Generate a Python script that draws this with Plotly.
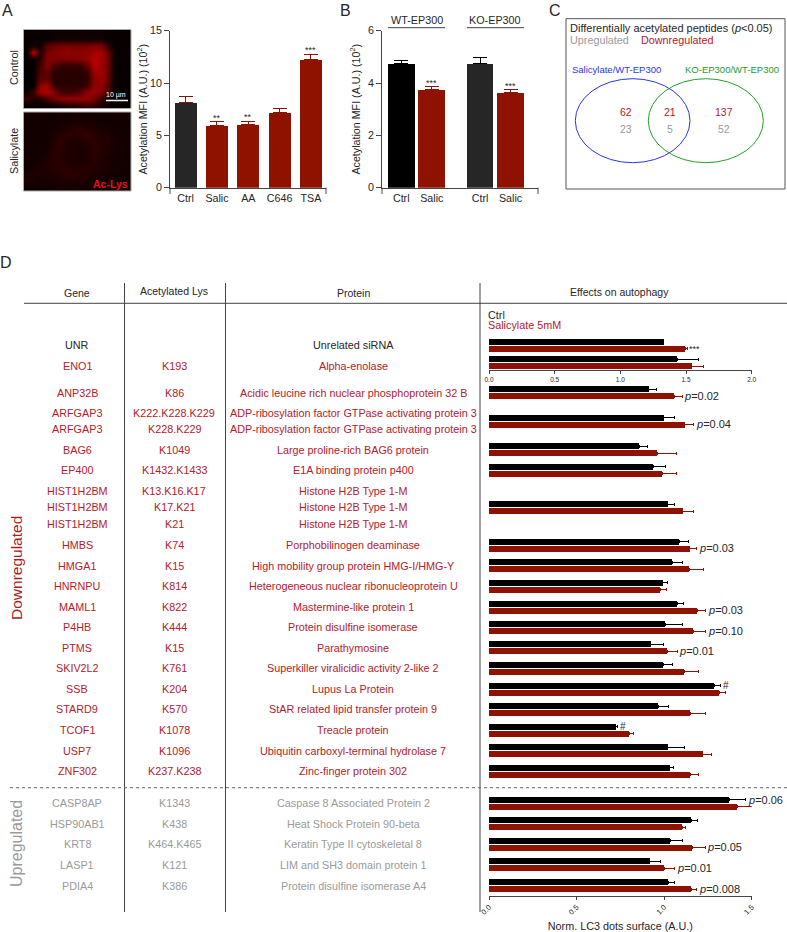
import numpy as np
import plotly.graph_objects as go

W, H = 787, 932
FONT = "Liberation Sans"
DARK = "#262626"
RED = "#8f1200"
TEXT_RED = "#b5202a"
GREY = "#9a9a9a"
LINE = "#444444"

# Panel A
a_labels = ["Ctrl", "Salic", "AA", "C646", "TSA"]
a_values = [8.15, 5.9, 6.0, 7.17, 12.23]
a_err_top = [8.73, 6.3, 6.37, 7.55, 12.77]
a_stars = ["", "**", "**", "", "***"]

# Panel B
b_labels = ["Ctrl", "Salic", "Ctrl", "Salic"]
b_values = [4.74, 3.76, 4.73, 3.64]
b_err_top = [4.88, 3.86, 4.97, 3.75]
b_stars = ["", "***", "", "***"]

control_img = [
    [10, 10, 10, 10, 12, 12, 12, 12, 12, 12, 12, 12, 10, 8, 8, 8],
    [8, 8, 8, 10, 18, 22, 22, 22, 22, 22, 22, 20, 12, 8, 8, 8],
    [5, 25, 12, 90, 110, 120, 125, 120, 120, 125, 130, 130, 50, 10, 8, 8],
    [5, 200, 25, 120, 130, 140, 145, 135, 135, 145, 165, 165, 110, 15, 8, 8],
    [5, 10, 40, 130, 130, 125, 125, 130, 135, 145, 185, 165, 120, 15, 8, 8],
    [5, 5, 65, 130, 70, 45, 45, 50, 50, 90, 185, 155, 110, 12, 8, 8],
    [5, 5, 75, 95, 40, 40, 42, 40, 40, 50, 150, 165, 110, 12, 8, 8],
    [5, 5, 90, 100, 40, 38, 38, 40, 38, 45, 140, 155, 110, 12, 8, 8],
    [5, 5, 140, 160, 50, 40, 40, 42, 42, 60, 140, 145, 90, 12, 8, 8],
    [15, 60, 165, 175, 130, 70, 60, 65, 90, 140, 155, 125, 75, 12, 8, 8],
    [60, 30, 30, 75, 115, 140, 150, 150, 150, 150, 120, 60, 25, 10, 8, 8],
    [10, 10, 10, 10, 18, 25, 35, 42, 50, 60, 50, 25, 12, 10, 8, 8],
]
salicylate_img = [
    [18, 18, 18, 18, 18, 18, 18, 18, 18, 18, 18, 18, 18, 18, 18, 18],
    [18, 18, 18, 18, 18, 20, 22, 24, 24, 22, 20, 18, 18, 18, 18, 18],
    [18, 18, 18, 18, 18, 25, 35, 42, 42, 38, 32, 28, 22, 18, 18, 18],
    [18, 18, 18, 18, 28, 38, 45, 40, 45, 50, 42, 32, 32, 22, 18, 18],
    [18, 18, 18, 18, 32, 45, 35, 30, 30, 40, 45, 36, 34, 26, 18, 18],
    [18, 18, 18, 22, 38, 45, 30, 26, 26, 30, 45, 36, 32, 24, 18, 18],
    [18, 18, 18, 28, 42, 40, 30, 30, 26, 26, 45, 34, 28, 22, 18, 18],
    [18, 18, 22, 32, 38, 40, 30, 26, 26, 30, 42, 32, 26, 20, 18, 18],
    [15, 22, 28, 32, 40, 44, 40, 36, 38, 40, 36, 32, 28, 20, 18, 18],
    [25, 32, 30, 30, 32, 36, 42, 44, 38, 32, 28, 26, 22, 18, 18, 18],
    [32, 25, 22, 24, 26, 28, 30, 30, 28, 26, 24, 22, 18, 18, 18, 18],
    [15, 15, 15, 18, 20, 22, 22, 22, 20, 18, 18, 18, 18, 18, 18, 18],
]

# Panel C
venn_down = ["62", "21", "137"]
venn_up = ["23", "5", "52"]

# Panel D table
genes_down = ["UNR", "ENO1", "ANP32B", "ARFGAP3", "ARFGAP3", "BAG6", "EP400", "HIST1H2BM", "HIST1H2BM",
              "HIST1H2BM", "HMBS", "HMGA1", "HNRNPU", "MAML1", "P4HB", "PTMS", "SKIV2L2", "SSB", "STARD9",
              "TCOF1", "USP7", "ZNF302"]
lys_down = ["", "K193", "K86", "K222.K228.K229", "K228.K229", "K1049", "K1432.K1433", "K13.K16.K17", "K17.K21",
            "K21", "K74", "K15", "K814", "K822", "K444", "K15", "K761", "K204", "K570", "K1078", "K1096",
            "K237.K238"]
protein_down = ["Unrelated siRNA", "Alpha-enolase", "Acidic leucine rich nuclear phosphoprotein 32 B",
                "ADP-ribosylation factor GTPase activating protein 3",
                "ADP-ribosylation factor GTPase activating protein 3",
                "Large proline-rich BAG6 protein", "E1A binding protein p400", "Histone H2B Type 1-M",
                "Histone H2B Type 1-M", "Histone H2B Type 1-M", "Porphobilinogen deaminase",
                "High mobility group protein HMG-I/HMG-Y", "Heterogeneous nuclear ribonucleoprotein U",
                "Mastermine-like protein 1", "Protein disulfine isomerase", "Parathymosine",
                "Superkiller viralicidic activity 2-like 2", "Lupus La Protein",
                "StAR related lipid transfer protein 9", "Treacle protein",
                "Ubiquitin carboxyl-terminal hydrolase 7", "Zinc-finger protein 302"]
genes_up = ["CASP8AP", "HSP90AB1", "KRT8", "LASP1", "PDIA4"]
lys_up = ["K1343", "K438", "K464.K465", "K121", "K386"]
protein_up = ["Caspase 8 Associated Protein 2", "Heat Shock Protein 90-beta", "Keratin Type II cytoskeletal 8",
              "LIM and SH3 domain protein 1", "Protein disulfine isomerase A4"]

# Panel D bars, top block (0-2 scale)
top_genes = ["UNR", "ENO1"]
top_ctrl = [1.33, 1.434]
top_ctrl_err_top = [1.33, 1.594]
top_sal = [1.495, 1.543]
top_sal_err_top = [1.508, 1.635]

# Panel D bars, main block (0-1.5 scale)
bar_genes = ["ANP32B", "ARFGAP3", "BAG6", "EP400", "HIST1H2BM", "HMBS", "HMGA1", "HNRNPU", "MAML1", "P4HB",
             "PTMS", "SKIV2L2", "SSB", "STARD9", "TCOF1", "USP7", "ZNF302", "CASP8AP", "HSP90AB1", "KRT8",
             "LASP1", "PDIA4"]
ctrl = [0.912, 0.998, 0.857, 0.937, 1.02, 1.087, 1.047, 0.992, 1.076, 1.005, 0.923, 0.996, 1.285, 0.965,
        0.723, 1.02, 1.032, 1.371, 1.156, 1.036, 0.918, 1.024]
ctrl_err_top = [0.958, 1.06, 0.904, 1.009, 1.06, 1.14, 1.106, 1.022, 1.112, 1.102, 0.996, 1.049, 1.323, 1.026,
                0.735, 1.116, 1.055, 1.466, 1.19, 1.102, 0.977, 1.057]
sal = [1.057, 1.119, 0.961, 0.99, 1.106, 1.146, 1.144, 0.978, 1.188, 1.165, 1.017, 1.116, 1.314, 1.15,
       0.8, 1.22, 1.15, 1.418, 1.102, 1.161, 1.001, 1.154]
sal_err_top = [1.102, 1.169, 1.07, 1.07, 1.169, 1.186, 1.226, 1.011, 1.239, 1.239, 1.076, 1.194, 1.348, 1.237,
               0.826, 1.272, 1.195, 1.511, 1.121, 1.234, 1.062, 1.186]
red_notes = {"ANP32B": "0.02", "ARFGAP3": "0.04", "HMBS": "0.03", "MAML1": "0.03", "P4HB": "0.10",
             "PTMS": "0.01", "KRT8": "0.05", "LASP1": "0.01", "PDIA4": "0.008"}
black_notes = {"CASP8AP": "0.06"}
hash_notes = ["SSB", "TCOF1"]

# Layout positions in page pixels
gene_y = [345, 365.7, 392.7, 413, 429.3, 450, 470.3, 491, 507, 524.3, 545, 565.7, 586, 606.7, 627.3, 647.7,
          668.3, 689, 709.3, 730, 750.7, 771]
gene_up_y = [803, 823.7, 844.3, 865, 885.7]
bar_y = [392.8, 421.2, 449.8, 470.3, 507.7, 545.2, 565.5, 586.2, 607, 627.5, 647.8, 668.3, 689, 709.5, 730.3,
         750.5, 771, 803.2, 823.7, 844.3, 864.8, 885.5]
top_bar_y = [345.2, 362.7]
b_x = [0, 1, 2.58, 3.58]


def px(x):
    return x / W


def py(y):
    return 1 - y / H


def text(x, y, s, size=10.8, color=DARK, **kw):
    kw.setdefault("xanchor", "center")
    if kw["xanchor"] == "left":
        x -= 2  # box padding
    return dict(x=px(x), y=py(y), xref="paper", yref="paper", text=s, showarrow=False, yanchor="middle",
                font=dict(family=FONT, size=size, color=color), **kw)


def line(x0, y0, x1, y1, color=LINE, width=1, dash="solid"):
    return dict(type="line", xref="paper", yref="paper", x0=px(x0), x1=px(x1), y0=py(y0), y1=py(y1),
                line=dict(color=color, width=width, dash=dash))


def rect(x0, y0, x1, y1, color, kind="rect"):
    return dict(type=kind, xref="paper", yref="paper", x0=px(x0), x1=px(x1), y0=py(y1), y1=py(y0),
                line=dict(color=color, width=1))


fig = go.Figure()

# micrographs
scale = [[0, "#000000"], [1, "#ff0000"]]
fig.add_trace(go.Heatmap(z=control_img, zmin=0, zmax=255, colorscale=scale, showscale=False, zsmooth="best",
                         xaxis="x", yaxis="y", hoverinfo="skip"))
fig.add_trace(go.Heatmap(z=salicylate_img, zmin=0, zmax=255, colorscale=scale, showscale=False, zsmooth="best",
                         xaxis="x2", yaxis="y2", hoverinfo="skip"))

# panel A
fig.add_trace(go.Bar(x=a_labels, y=a_values, width=0.7, xaxis="x3", yaxis="y3",
                     marker=dict(color=[DARK, RED, RED, RED, RED], line_width=0),
                     error_y=dict(type="data", symmetric=False, array=np.array(a_err_top) - np.array(a_values),
                                  arrayminus=[0] * 5, color=RED, thickness=1, width=7),
                     showlegend=False))

# panel B, ctrl and salicylate carry different error colours
b_x_arr, b_v, b_t = np.array(b_x), np.array(b_values), np.array(b_err_top)
for idx, colors, err_color in [([0, 2], ["#000000", DARK], "#000000"), ([1, 3], [RED, RED], RED)]:
    fig.add_trace(go.Bar(x=b_x_arr[idx], y=b_v[idx], width=0.88, xaxis="x4", yaxis="y4",
                         marker=dict(color=colors, line_width=0),
                         error_y=dict(type="data", symmetric=False, array=b_t[idx] - b_v[idx],
                                      arrayminus=[0, 0], color=err_color, thickness=1, width=7),
                         showlegend=False))


def add_hbars(values, tops, ys, color, xa, ya):
    fig.add_trace(go.Bar(x=values, y=ys, orientation="h", width=6, xaxis=xa, yaxis=ya,
                         marker=dict(color=color, line_width=0),
                         error_x=dict(type="data", symmetric=False, array=np.array(tops) - np.array(values),
                                      arrayminus=[0] * len(values), color=color, thickness=1, width=1.5),
                         showlegend=False))


top_y = np.array(top_bar_y)
main_y = np.array(bar_y)
add_hbars(top_ctrl, top_ctrl_err_top, top_y - 3.5, "#000000", "x5", "y5")
add_hbars(top_sal, top_sal_err_top, top_y + 3.5, RED, "x5", "y5")
add_hbars(ctrl, ctrl_err_top, main_y - 3.5, "#000000", "x6", "y6")
add_hbars(sal, sal_err_top, main_y + 3.5, RED, "x6", "y6")

tickfont = dict(family=FONT, size=10.7, color=DARK)
axis_common = dict(showgrid=False, zeroline=False, showline=True, linecolor=LINE, linewidth=1)
hidden = dict(visible=False)
y_title = "Acetylation MFI (A.U.) (10<sup>2</sup>)"

fig.update_layout(
    width=W, height=H, margin=dict(l=0, r=0, t=0, b=0, autoexpand=False), autosize=False,
    paper_bgcolor="white", plot_bgcolor="rgba(0,0,0,0)", barmode="overlay", bargap=0,
    # micrographs
    xaxis=dict(domain=[px(23.5), px(131)], **hidden),
    yaxis=dict(domain=[py(108.5), py(29.5)], autorange="reversed", **hidden),
    xaxis2=dict(domain=[px(23.5), px(131)], anchor="y2", **hidden),
    yaxis2=dict(domain=[py(191), py(112)], anchor="x2", autorange="reversed", **hidden),
    # panel A
    xaxis3=dict(domain=[px(170), px(326)], anchor="y3", type="category", range=[-0.5, 4.48], ticks="",
                tickfont=tickfont, **axis_common),
    yaxis3=dict(domain=[py(187.7), py(30.7)], anchor="x3", range=[0, 15], tickvals=[0, 5, 10, 15], ticks="outside",
                ticklen=5, tickcolor=LINE, tickfont=tickfont, **axis_common,
                title=dict(text=y_title, font=tickfont, standoff=0)),
    # panel B
    xaxis4=dict(domain=[px(382), px(538)], anchor="y4", range=[-0.63, 4.48], tickmode="array", tickvals=b_x,
                ticktext=b_labels, ticks="", tickfont=tickfont, **axis_common),
    yaxis4=dict(domain=[py(187.7), py(30.7)], anchor="x4", range=[0, 6], tickvals=[0, 2, 4, 6], ticks="outside",
                ticklen=5, tickcolor=LINE, tickfont=tickfont, **axis_common,
                title=dict(text=y_title, font=tickfont, standoff=5)),
    # panel D top block, y axis is in page pixels
    xaxis5=dict(domain=[px(489), px(751.7)], anchor="y5", range=[0, 2], tickvals=[0, 0.5, 1, 1.5, 2],
                tickformat=".1f", ticks="outside", ticklen=3, tickcolor=LINE,
                tickfont=dict(family=FONT, size=6.5, color=DARK), **axis_common),
    yaxis5=dict(domain=[py(370), py(335)], anchor="x5", range=[370, 335], **hidden),
    # panel D main block, y axis is in page pixels
    xaxis6=dict(domain=[px(489), px(751.7)], anchor="y6", range=[0, 1.5], tickvals=[0, 0.5, 1, 1.5],
                tickformat=".1f", ticks="outside", ticklen=3, tickcolor=LINE, tickangle=-45,
                tickfont=dict(family=FONT, size=7.5, color=DARK), **axis_common,
                title=dict(text="Norm. LC3 dots surface (A.U.)", font=dict(family=FONT, size=10.8, color=DARK),
                           standoff=6)),
    yaxis6=dict(domain=[py(896), py(380)], anchor="x6", range=[896, 380], **hidden),
)

shapes = [
    # micrograph frames
    rect(23.5, 29.5, 131, 108.5, "#aaaaaa"), rect(23.5, 112, 131, 191, "#aaaaaa"),
    # end ticks of panels A and B
    line(170, 187.7, 170, 194), line(326, 187.7, 326, 194),
    line(382, 187.7, 382, 194), line(538, 187.7, 538, 194),
    # panel B headers
    line(388, 27.7, 445, 27.7), line(467, 27.7, 524, 27.7),
    # panel C
    rect(566, 18.7, 785, 189, "#555555"),
    rect(575.3, 78.7, 690, 162.7, "#2a35e8", kind="circle"),
    rect(648.3, 78.7, 763.3, 162.7, "#22a02a", kind="circle"),
    # scale bar
    line(106, 100.5, 128, 100.5, color="white", width=1.5),
    # table rules
    line(24, 303.3, 787, 303.3),
    line(124.5, 283, 124.5, 912), line(225.5, 283, 225.5, 912), line(480, 283, 480, 912),
    line(10, 787.7, 787, 787.7, color="#666666", dash="dot"),
]

notes = [
    text(7, 10.5, "A", size=16), text(345, 10.5, "B", size=16), text(555, 10.5, "C", size=16),
    text(6, 262, "D", size=16),
    text(14, 68, "Control", textangle=-90), text(14, 151, "Salicylate", textangle=-90),
    text(116, 95, "10 µm", size=7, color="white"),
    text(111, 184, "<b>Ac-Lys</b>", size=10.5, color="#e8101a"),
    text(416.7, 20, "WT-EP300"), text(495, 20, "KO-EP300"),
    text(570, 28, "Differentially acetylated peptides (<i>p</i>&lt;0.05)", size=11, xanchor="left"),
    text(570, 39.5, "Upregulated", color=GREY, xanchor="left"),
    text(640.7, 39.5, "Downregulated", color=TEXT_RED, xanchor="left"),
    text(616, 70, "Salicylate/WT-EP300", size=9.5, color="#2a35e8"),
    text(732, 70, "KO-EP300/WT-EP300", size=9.5, color="#22a02a"),
    text(77, 292.5, "Gene", size=10.5), text(174.3, 291.5, "Acetylated Lys", size=10.5),
    text(353.3, 292.5, "Protein", size=10.5), text(619.3, 291.7, "Effects on autophagy", size=10.5),
    text(488, 315, "Ctrl", xanchor="left"), text(488, 325, "Salicylate 5mM", color=TEXT_RED, xanchor="left"),
    text(16, 568, "Downregulated", size=15.5, color="#a81e22", textangle=-90),
    text(16, 844, "Upregulated", size=16, color=GREY, textangle=-90),
]

for cx, s1, s2 in zip([626, 670, 724], venn_down, venn_up):
    notes.append(text(cx, 112, s1, size=10.5, color=TEXT_RED))
    notes.append(text(cx, 129, s2, size=10.5, color=GREY))

for i, (g, k, p, y) in enumerate(zip(genes_down, lys_down, protein_down, gene_y)):
    color = DARK if i == 0 else TEXT_RED
    notes.append(text(77, y, g, color=color))
    if k:
        notes.append(text(174.3, y, k, color=color))
    notes.append(text(353.3, y, p, color=color))
for g, k, p, y in zip(genes_up, lys_up, protein_up, gene_up_y):
    notes.append(text(77, y, g, color=GREY))
    notes.append(text(174.3, y, k, color=GREY))
    notes.append(text(353.3, y, p, color=GREY))

# stars over panels A and B
for lab, top, s in zip(a_labels, a_err_top, a_stars):
    if s:
        notes.append(dict(x=lab, y=top, xref="x3", yref="y3", text=s, showarrow=False, yanchor="bottom", yshift=-3,
                          font=dict(family=FONT, size=9, color=DARK)))
for xb, top, s in zip(b_x, b_err_top, b_stars):
    if s:
        notes.append(dict(x=xb, y=top, xref="x4", yref="y4", text=s, showarrow=False, yanchor="bottom", yshift=-3,
                          font=dict(family=FONT, size=9, color=DARK)))


def bar_note(x, y, s, xa, ya, size=11):
    return dict(x=x, y=y, xref=xa, yref=ya, text=s, showarrow=False, xanchor="left", xshift=0,
                font=dict(family=FONT, size=size, color=DARK))


notes.append(bar_note(top_sal_err_top[0], top_y[0] + 3.5, "***", "x5", "y5", size=9))
for i, g in enumerate(bar_genes):
    if g in red_notes:
        notes.append(bar_note(sal_err_top[i], bar_y[i] + 3, "<i>p</i>=" + red_notes[g], "x6", "y6"))
    if g in black_notes:
        notes.append(bar_note(ctrl_err_top[i], bar_y[i] - 3, "<i>p</i>=" + black_notes[g], "x6", "y6"))
    if g in hash_notes:
        notes.append(bar_note(ctrl_err_top[i], bar_y[i] - 3.5, "#", "x6", "y6", size=10))

fig.update_layout(shapes=shapes, annotations=notes)

page_js = """
var s = document.createElement('style');
s.textContent = 'html,body{margin:0;padding:0}';
document.head.appendChild(s);
document.body.style.margin = '0';
"""
fig.write_html("out.html", post_script=page_js, config=dict(displayModeBar=False))
